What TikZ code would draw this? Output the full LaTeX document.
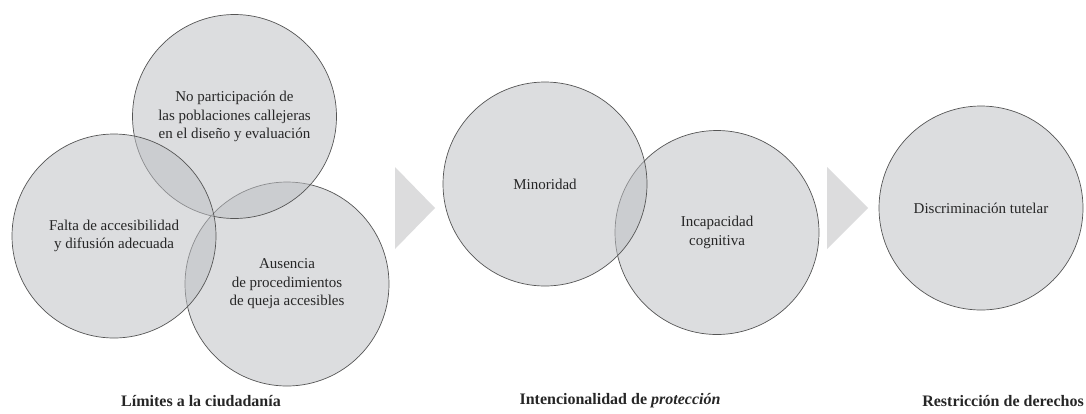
\documentclass[tikz,border=0pt]{standalone}
\usepackage{fontspec}
\setmainfont{Liberation Serif}
\usepackage{tikz}
\usetikzlibrary{positioning}

\definecolor{circgray}{RGB}{189,191,195}
\definecolor{rimgray}{RGB}{85,85,85}
\definecolor{arrowgray}{RGB}{220,220,221}

\begin{document}
\begin{tikzpicture}[x=1pt, y=-1pt, semithick,
  venn/.style={circle, draw=rimgray, line width=0.7pt, fill=circgray, fill opacity=0.53,
    text opacity=1, minimum size=204pt, inner sep=0pt, align=center,
    font=\fontsize{15}{18.5}\selectfont, text=black!85},
  caption/.style={font=\fontsize{16}{18}\selectfont\bfseries, text=black!85}]

\useasboundingbox (0,0) rectangle (1086,413);

% limites a la ciudadania
\node[venn] (A3) at (287,284) {Ausencia\\de procedimientos\\de queja accesibles};
\node[venn] (A1) at (234.5,116.5) {No participación de\\las poblaciones callejeras\\en el diseño y evaluación};
\node[venn] (A2) at (114,236) {Falta de accesibilidad\\y difusión adecuada};

\fill[arrowgray] (395,167) -- (435,208) -- (395,249) -- cycle;

% intencionalidad de proteccion
\node[venn] (B2) at (717,232.5) {Incapacidad\\cognitiva};
\node[venn] (B1) at (545,184) {Minoridad};

\fill[arrowgray] (827,167) -- (868,208) -- (827,249) -- cycle;

% restriccion de derechos
\node[venn] (C1) at (981,208) {Discriminación tutelar};

\node[caption] (LA) at (201,401) {Límites a la ciudadanía};
\node[caption] (LB) at (620,401) {Intencionalidad de \textit{protección}};
\node[caption] (LC) at (1003,401) {Restricción de derechos};

\end{tikzpicture}
\end{document}
